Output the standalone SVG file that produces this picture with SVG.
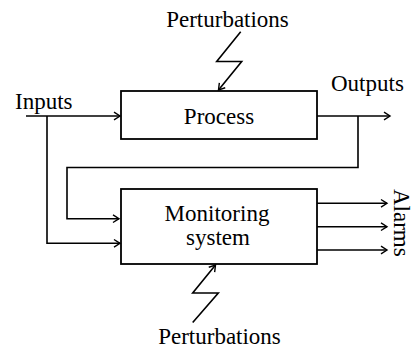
<svg xmlns="http://www.w3.org/2000/svg" width="413" height="349" viewBox="0 0 413 349">
  <style>
    text { font-family: "Liberation Serif", "Times New Roman", serif; font-size: 23px; fill: #000; }
    .box { fill: #fff; stroke: #000; stroke-width: 1.8; }
    .wire { fill: none; stroke: #000; stroke-width: 1.6; }
  </style>
  <defs>
    <marker id="head" markerUnits="userSpaceOnUse" markerWidth="12" markerHeight="12" refX="0" refY="0" viewBox="-7 -6 8 12" orient="auto" overflow="visible">
      <path d="M -6 -3.8 L 0 0 L -6 3.8" fill="none" stroke="#000" stroke-width="1.4"/>
    </marker>
  </defs>

  <!-- process block -->
  <g id="process">
    <rect class="box" x="121" y="91" width="196" height="48"/>
    <text x="219" y="123.5" text-anchor="middle">Process</text>
  </g>

  <!-- monitoring block -->
  <g id="monitoring">
    <rect class="box" x="121" y="189" width="196" height="75"/>
    <text x="217" y="221" text-anchor="middle" font-size="22">Monitoring</text>
    <text x="218" y="245" text-anchor="middle" font-size="22">system</text>
  </g>

  <!-- labels -->
  <g id="labels">
    <text x="227.5" y="27" text-anchor="middle">Perturbations</text>
    <text x="219.5" y="344" text-anchor="middle">Perturbations</text>
    <text x="15" y="108.5">Inputs</text>
    <text x="331" y="91">Outputs</text>
    <text transform="translate(393.5,189) rotate(90)" font-size="21">Alarms</text>
  </g>

  <!-- signal lines -->
  <g id="connectors">
    <path class="wire" d="M 26 116 L 120 116" marker-end="url(#head)"/>
    <path class="wire" d="M 47 116 L 47 243.3 L 120 243.3" marker-end="url(#head)"/>
    <path class="wire" d="M 317 116 L 390 116" marker-end="url(#head)"/>
    <path class="wire" d="M 358 116 L 358 167.5 L 67 167.5 L 67 218.7 L 119 218.7" marker-end="url(#head)"/>
    <path class="wire" d="M 317 203.3 L 387 203.3" marker-end="url(#head)"/>
    <path class="wire" d="M 317 226.7 L 387 226.7" marker-end="url(#head)"/>
    <path class="wire" d="M 317 250 L 387 250" marker-end="url(#head)"/>
    <!-- disturbance bolts -->
    <path class="wire" d="M 240.7 31.7 L 216.7 61.5 L 241.7 61.5 L 218.5 90" marker-end="url(#head)"/>
    <path class="wire" d="M 192.7 322.5 L 218.3 293 L 192.7 293 L 215.5 265" marker-end="url(#head)"/>
  </g>
</svg>
